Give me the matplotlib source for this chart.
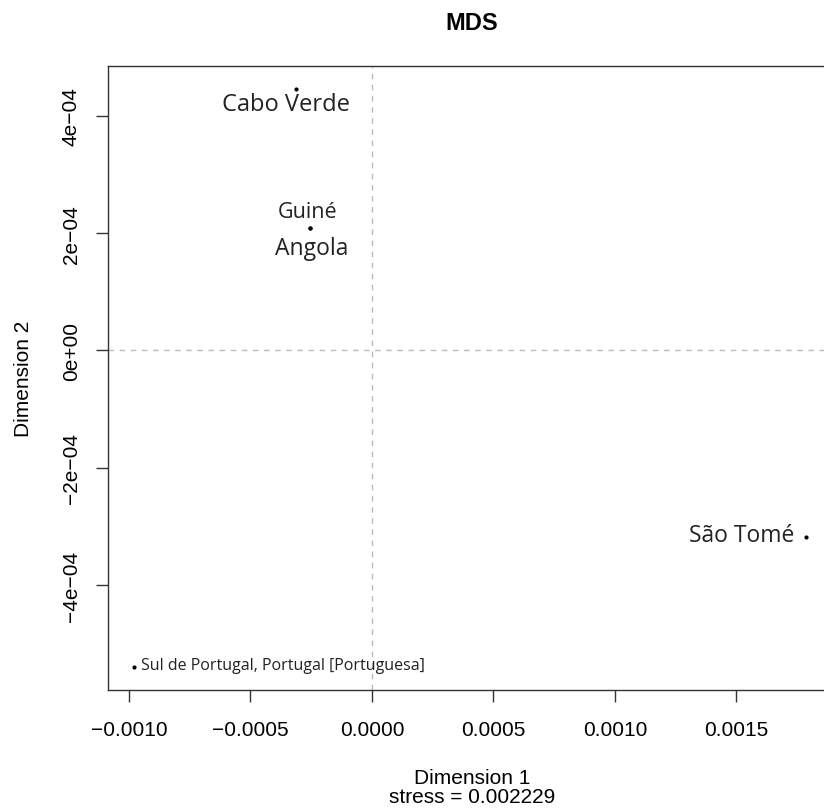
import matplotlib
matplotlib.use("Agg")
import matplotlib.pyplot as plt

# MDS coordinates
countries = ["Cabo Verde", "Guiné", "Angola", "São Tomé",
             "Sul de Portugal, Portugal [Portuguesa]"]
dim1 = [-0.000313, -0.000255, -0.000255, 0.001786, -0.000979]
dim2 = [4.46e-4, 2.085e-4, 2.085e-4, -3.18e-4, -5.40e-4]
stress = 0.002229

# label placement (offset in points, alignment, size)
offsets = [(-7, -11), (-2, 12), (1.5, -14), (-8, 1.5), (5, 1.5)]
aligns = ["center", "center", "center", "right", "left"]
sizes = [17, 15.5, 16.5, 16.5, 11.5]

fig = plt.figure(figsize=(8.24, 8.12), dpi=100)
ax = fig.add_axes([108 / 824, 1 - 691 / 812, (836 - 108) / 824, (691 - 67) / 812])

ax.scatter(dim1, dim2, s=4, color="black", zorder=3)
for name, x, y, off, ha, fs in zip(countries, dim1, dim2, offsets, aligns, sizes):
    ax.annotate(name, (x, y), xytext=off, textcoords="offset points",
                ha=ha, va="center", fontsize=fs, family="Open Sans",
                color="#222222")

ax.axvline(0, color="#bbbbbb", linestyle=(0, (4, 4)), linewidth=1)
ax.axhline(0, color="#bbbbbb", linestyle=(0, (4, 4)), linewidth=1)

ax.set_xlim(-0.001086, 0.00191)
ax.set_ylim(-5.79e-4, 4.85e-4)
ax.set_xticks([-0.0010, -0.0005, 0.0, 0.0005, 0.0010, 0.0015])
ax.set_xticklabels(["\u22120.0010", "\u22120.0005", "0.0000", "0.0005", "0.0010", "0.0015"])
ax.set_yticks([-4e-4, -2e-4, 0, 2e-4, 4e-4])
ax.set_yticklabels(["\u22124e\u221204", "\u22122e\u221204", "0e+00", "2e\u221204", "4e\u221204"],
                   rotation=90, va="center")
ax.tick_params(direction="out", length=8.6, width=1, labelsize=15, color="#333333")
ax.tick_params(axis="x", pad=13)
ax.tick_params(axis="y", pad=11)
for lbl in ax.get_xticklabels() + ax.get_yticklabels():
    lbl.set_family("Liberation Sans")
for sp in ax.spines.values():
    sp.set_color("#333333")
    sp.set_linewidth(1)

ax.set_xlabel("Dimension 1\nstress = %.6f" % stress, fontsize=15,
              family="Liberation Sans", labelpad=21, linespacing=1.0)
ax.set_ylabel("Dimension 2", fontsize=15, family="Liberation Sans", labelpad=21)
ax.set_title("MDS", fontsize=17, fontweight="bold", family="Liberation Sans", pad=27)

fig.savefig("out.png", dpi=100)
